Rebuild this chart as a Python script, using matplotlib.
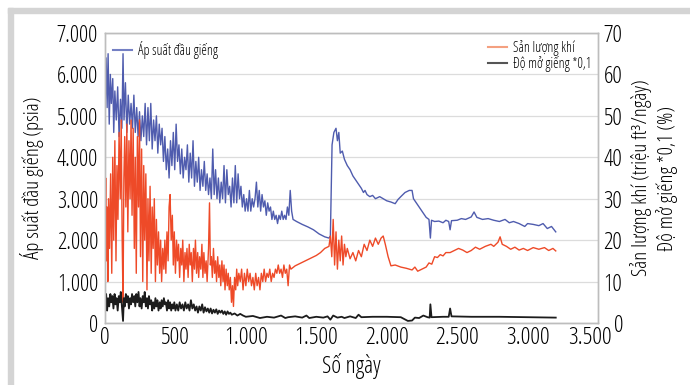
import matplotlib
matplotlib.use('Agg')
import matplotlib.pyplot as plt
from matplotlib.lines import Line2D
from matplotlib.patches import Rectangle
from matplotlib.ticker import FuncFormatter
from matplotlib.transforms import ScaledTranslation

plt.rcParams['font.family'] = ['Open Sans', 'DejaVu Sans']
plt.rcParams['font.stretch'] = 'condensed'
plt.rcParams['font.weight'] = 'medium'

# pressure at well head (psia), left axis
p_days = [0, 8, 15, 22, 30, 38, 45, 55, 62, 70, 80, 90, 100, 110, 120, 128, 135, 145, 155, 165,
          175, 185, 195, 205, 215, 225, 235, 245, 255, 265, 275, 285, 295, 305, 315, 325, 335, 345,
          355, 365, 375, 385, 395, 405, 415, 425, 435, 445, 455, 465, 475, 485, 495, 505, 515, 525,
          535, 545, 555, 565, 575, 585, 595, 605, 615, 625, 635, 645, 655, 665, 675, 685, 695, 705,
          715, 725, 735, 745, 755, 765, 775, 785, 795, 805, 815, 825, 835, 845, 855, 865, 875, 885,
          895, 905, 915, 925, 935, 945, 955, 965, 975, 985, 995, 1005, 1015, 1025, 1035, 1045, 1055,
          1065, 1075, 1085, 1095, 1105, 1115, 1125, 1135, 1145, 1155, 1165, 1175, 1185, 1195, 1205,
          1215, 1225, 1235, 1245, 1255, 1265, 1275, 1285, 1295, 1305, 1315, 1325, 1335,
          1360, 1400, 1440, 1480, 1520, 1560, 1590, 1600, 1612, 1625, 1640, 1650, 1660, 1670, 1685,
          1700, 1720, 1740, 1760, 1780, 1800, 1820, 1835, 1846, 1860, 1880, 1900, 1920, 1950, 1975,
          2000, 2030, 2060, 2080, 2100, 2130, 2160, 2180, 2190, 2200, 2220, 2240, 2260, 2280, 2300,
          2310, 2318, 2340, 2370, 2400, 2420, 2440, 2450, 2460, 2500, 2530, 2560, 2600, 2620, 2640,
          2680, 2720, 2760, 2800, 2840, 2870, 2900, 2940, 2980, 3000, 3040, 3080, 3110, 3140, 3170,
          3200]
pressure = [5000, 6400, 5200, 6500, 4800, 6000, 5300, 5900, 4600, 5600, 4900, 5700, 4500, 5400,
            4700, 6500, 4900, 5800, 4600, 5500, 4800, 5300, 4700, 5500, 4600, 5200, 4500, 5100,
            4400, 5000, 4500, 5300, 4300, 5200, 4400, 5300, 4200, 4900, 4400, 5000, 4100, 4800,
            4300, 4700, 3900, 4500, 3700, 4200, 3500, 4400, 3800, 4600, 3700, 4800, 3900, 4300,
            3600, 4200, 3500, 4000, 3700, 4300, 3400, 4100, 3500, 4400, 3300, 3900, 3400, 4000,
            3200, 3700, 3300, 3900, 3200, 3600, 3100, 3500, 3000, 4200, 3100, 3700, 3000, 3500,
            2900, 3400, 3000, 3800, 2900, 3700, 3100, 3300, 2800, 3500, 2900, 3800, 2900, 3600,
            3000, 3300, 2800, 3100, 2700, 3000, 2700, 3200, 2700, 3000, 2800, 3000, 3400, 2800,
            3200, 2700, 3100, 2800, 2950, 2600, 2900, 2700, 2800, 2500, 2700, 2500, 2600, 2400,
            2600, 2500, 2700, 2500, 2600, 2500, 2800, 2600, 3200, 2700, 2500,
            2450, 2380, 2320, 2250, 2150, 2080, 2050, 2100, 4300, 4600, 4700, 4400, 4600, 4100,
            4150, 3950, 3800, 3700, 3550, 3450, 3350, 3250, 3150, 3200, 3100, 3050, 3080, 3000,
            3050, 3000, 2950, 2920, 2880, 2980, 3050, 3150, 3200, 3200, 3000, 2950, 2850, 2750,
            2650, 2550, 2500, 2050, 2480, 2450, 2460, 2420, 2480, 2450, 2250, 2470, 2480, 2520,
            2500, 2560, 2680, 2550, 2500, 2520, 2480, 2450, 2500, 2420, 2450, 2400, 2330, 2400,
            2380, 2350, 2400, 2280, 2330, 2200]

# gas production (million ft3/day), right axis
g_days = [0, 5, 10, 15, 20, 25, 32, 40, 48, 55, 62, 70, 78, 85, 92, 100, 108, 115, 122, 128, 134,
          140, 148, 155, 162, 170, 178, 185, 192, 200, 208, 215, 222, 230, 238, 245, 252, 260, 268,
          275, 282, 290, 298, 305, 312, 320, 328, 335, 342, 350, 358, 365, 372, 380, 388, 395, 402,
          410, 418, 425, 432, 440, 448, 455, 462, 470, 478, 485, 492, 500, 508, 515, 522, 530, 538,
          545, 552, 560, 568, 575, 582, 590, 598, 605, 612, 620, 628, 635, 642, 650, 658, 665, 672,
          680, 688, 695, 702, 710, 718, 725, 735, 742, 748, 755, 762, 770, 778, 785, 792, 800, 808,
          815, 822, 830, 838, 845, 852, 860, 868, 875, 882, 890, 898, 905, 912, 920, 928, 935, 942,
          950, 960, 970, 980, 990, 1000, 1010, 1020, 1030, 1040, 1050, 1060, 1070, 1080, 1090, 1100,
          1110, 1120, 1130, 1140, 1150, 1160, 1170, 1180, 1190, 1200, 1210, 1220, 1230, 1240, 1250,
          1260, 1270, 1280, 1290, 1300, 1310, 1320,
          1350, 1380, 1410, 1440, 1470, 1500, 1530, 1560, 1590, 1600, 1610, 1620, 1630, 1640, 1650,
          1660, 1670, 1680, 1690, 1700, 1710, 1720, 1740, 1760, 1780, 1800, 1820, 1840, 1860, 1880,
          1900, 1920, 1940, 1960, 1975, 1990, 2010, 2030, 2060, 2100, 2140, 2180, 2200, 2220, 2250,
          2280, 2300, 2320, 2340, 2360, 2380, 2400, 2420, 2450, 2480, 2510, 2540, 2570, 2600, 2630,
          2660, 2700, 2740, 2760, 2790, 2805, 2820, 2850, 2880, 2910, 2940, 2970, 3000, 3040, 3080,
          3120, 3150, 3180, 3200]
gas = [20, 35, 15, 28, 10, 30, 18, 36, 12, 40, 20, 44, 15, 38, 25, 46, 30, 49, 20, 5, 35, 45, 28,
       48, 22, 44, 30, 49, 26, 47, 18, 40, 12, 45, 28, 49, 16, 42, 10, 38, 20, 36, 8, 30, 15, 33,
       12, 28, 18, 30, 10, 25, 14, 22, 12, 20, 10, 18, 13, 20, 12, 22, 15, 28, 31, 20, 26, 14, 22,
       12, 20, 15, 19, 11, 18, 14, 20, 10, 17, 13, 18, 11, 19, 14, 17, 10, 18, 13, 20, 12, 17, 11,
       16, 13, 19, 11, 17, 12, 15, 10, 18, 29, 14, 16, 11, 18, 12, 15, 10, 16, 11, 14, 9, 15, 10,
       14, 8, 13, 9, 12, 8, 11, 5, 9, 4, 11, 8, 13, 9, 12, 10, 13, 8, 12, 9, 13, 10, 12, 9, 11, 8,
       12, 9, 11, 8, 12, 10, 13, 10, 12, 11, 13, 10, 12, 11, 13, 12, 14, 12, 13, 11, 14, 12, 13, 9,
       14, 13,
       13.8, 14.3, 14.8, 15.3, 15.8, 16.3, 17, 18, 18.5, 21, 16, 25, 14, 22, 13, 20, 15, 21, 14, 19,
       16, 18, 15.5, 17, 15, 17.5, 16, 19, 17.5, 20, 18.5, 20.5, 19, 20.5, 21, 19, 16, 13.8, 14,
       13.5, 13.2, 12.8, 13.5, 12.5, 13, 13.5, 14.5, 14.2, 16, 15.8, 16.5, 16.2, 17, 17, 17.5, 18,
       17.6, 17, 17.5, 18.3, 17.8, 18.5, 19, 18.5, 19.5, 20.8, 19, 18.5, 17.8, 18.3, 17.6, 18, 17.5,
       18.2, 17.8, 18.2, 17.5, 18, 17.4]

# well opening * 0.1 (%), right axis
o_days = [0, 8, 15, 22, 30, 38, 45, 52, 60, 68, 75, 82, 90, 98, 105, 112, 120, 128, 134, 140, 148,
          155, 162, 170, 178, 185, 192, 200, 208, 215, 222, 230, 238, 245, 252, 260, 268, 275, 282,
          290, 298, 305, 312, 320, 328, 335, 342, 350, 358, 365, 372, 380, 388, 395, 402, 410, 418,
          425, 432, 440, 448, 455, 462, 470, 478, 485, 492, 500, 510, 520, 530, 540, 550, 560, 570,
          580, 590, 600, 610, 620, 630, 640, 650, 660, 670, 680, 690, 700, 710, 720, 730, 740, 750,
          760, 770, 780, 790, 800, 810, 820, 830, 840, 850, 860, 870, 880, 890, 900, 920, 940, 960,
          980, 1000, 1050, 1100, 1150, 1200, 1250, 1280, 1300, 1350, 1400, 1430, 1450, 1500, 1550,
          1580, 1600, 1620, 1650, 1680, 1700, 1740, 1780, 1800, 1820, 1900, 2000, 2100, 2150, 2180,
          2200, 2230, 2260, 2290, 2305, 2310, 2318, 2400, 2440, 2450, 2460, 2600, 2800, 3000, 3200]
opening = [5, 7, 3, 6, 4, 7, 5, 6.5, 3.5, 7, 4.5, 6, 3, 6.5, 5, 7.5, 4, 0.5, 6, 4, 7, 5, 6.5, 3.5,
           6, 4.5, 7, 5, 6.5, 4, 7, 5, 7.5, 4, 6, 3.5, 6.5, 5, 7.5, 4, 6, 3.5, 6.5, 4.5, 5.5, 3, 5,
           3.5, 6, 4, 5.5, 3, 5, 3.5, 5.5, 4, 6, 4.5, 5, 3, 5.5, 3.5, 5, 3, 4.5, 3.5, 5, 3, 4.5, 3,
           5, 3.5, 4.5, 3, 5, 3.5, 4.5, 3, 5.5, 3.5, 4.5, 3, 4, 2.5, 4, 3, 4.5, 2.5, 3.8, 2.8, 3.5,
           2.5, 3.5, 2.3, 3.2, 2.5, 3.3, 2.2, 3, 2.5, 3, 2.2, 2.8, 2, 2.8, 2.2, 2.5, 2, 2.3, 1.8,
           2.2, 1.8, 1.5, 1.7, 1.2, 1.5, 1.3, 1.8, 1.2, 1.4, 1.6, 1.3, 1.8, 1.2, 1.5, 1.3, 1.6, 0.8,
           1.8, 1.3, 1.5, 1.2, 1.6, 1.2, 2, 1.4, 1.5, 1.5, 1.4, 0.5, 0.6, 1.3, 1.2, 1.8, 1.4, 1.3,
           4.5, 1.4, 1.5, 1.5, 3.5, 1.6, 1.5, 1.5, 1.4, 1.3]

x_ticks = [0, 500, 1000, 1500, 2000, 2500, 3000, 3500]


def dot_thousands(v, pos):
    return f'{v:,.0f}'.replace(',', '.')


fig = plt.figure(figsize=(6.9, 3.85), dpi=100)
fig.patches.append(Rectangle((8 / 690, 1 - 13 / 385), 1, 5 / 385, transform=fig.transFigure,
                             color='#d4d4d4', zorder=-1))
fig.patches.append(Rectangle((8 / 690, -0.1), 5 / 690, 1 - 8 / 385 + 0.1, transform=fig.transFigure,
                             color='#d4d4d4', zorder=-1))

ax = fig.add_axes([105 / 690, 1 - 323 / 385, 493 / 690, 290 / 385])
ax2 = ax.twinx()

ax.plot(p_days, pressure, color='#4f5cae', lw=1.0)
ax2.plot(g_days, gas, color='#ee4a28', lw=1.0)
ax2.plot(o_days, opening, color='#1c1c1c', lw=1.3)

ax.set_xlim(0, 3500)
ax.set_ylim(0, 7000)
ax2.set_ylim(0, 70)
ax.set_xticks(x_ticks)
ax.set_yticks(range(0, 7001, 1000))
ax2.set_yticks(range(0, 71, 10))
ax.xaxis.set_major_formatter(FuncFormatter(dot_thousands))
ax.yaxis.set_major_formatter(FuncFormatter(dot_thousands))
ax.grid(axis='y', color='#dcdcdc', lw=0.9)
ax.set_axisbelow(True)

for a in (ax, ax2):
    for s in a.spines.values():
        s.set_color('#bdbdbd')
        s.set_linewidth(1.0)
ax.tick_params(axis='y', length=0, labelsize=16.5, pad=5)
ax.tick_params(axis='x', length=0, labelsize=17.5, pad=2)
ax2.tick_params(axis='y', length=0, labelsize=17, pad=4)

# nudge the crowded corner labels apart like in the original
lab = ax.xaxis.get_major_ticks()[-1].label1
lab.set_transform(lab.get_transform() + ScaledTranslation(-8 / 100, 0, fig.dpi_scale_trans))
lab0 = ax2.yaxis.get_major_ticks()[0].label2
lab0.set_transform(lab0.get_transform() + ScaledTranslation(10 / 100, 0, fig.dpi_scale_trans))

ax.set_xlabel('Số ngày', fontsize=17, labelpad=2)
ax.set_ylabel('Áp suất đầu giếng (psia)', fontsize=15, labelpad=9)
ax2.set_ylabel('Sản lượng khí (triệu ft³/ngày)\nĐộ mở giếng *0,1 (%)', fontsize=15,
               multialignment='center', linespacing=1.25, labelpad=5)

leg1 = ax.legend([Line2D([], [], color='#7480c4', lw=1.5)], ['Áp suất đầu giếng'],
                 loc='upper left', frameon=False, fontsize=10, handlelength=1.4,
                 borderaxespad=0.15, handletextpad=0.4)
leg2 = ax2.legend([Line2D([], [], color='#f4a080', lw=1.5), Line2D([], [], color='#555555', lw=1.5)],
                  ['Sản lượng khí', 'Độ mở giếng *0,1'], loc='upper right', frameon=False,
                  fontsize=10, handlelength=1.4, borderaxespad=0.1, handletextpad=0.4,
                  labelspacing=0.0)

fig.savefig('out.png', dpi=100)
